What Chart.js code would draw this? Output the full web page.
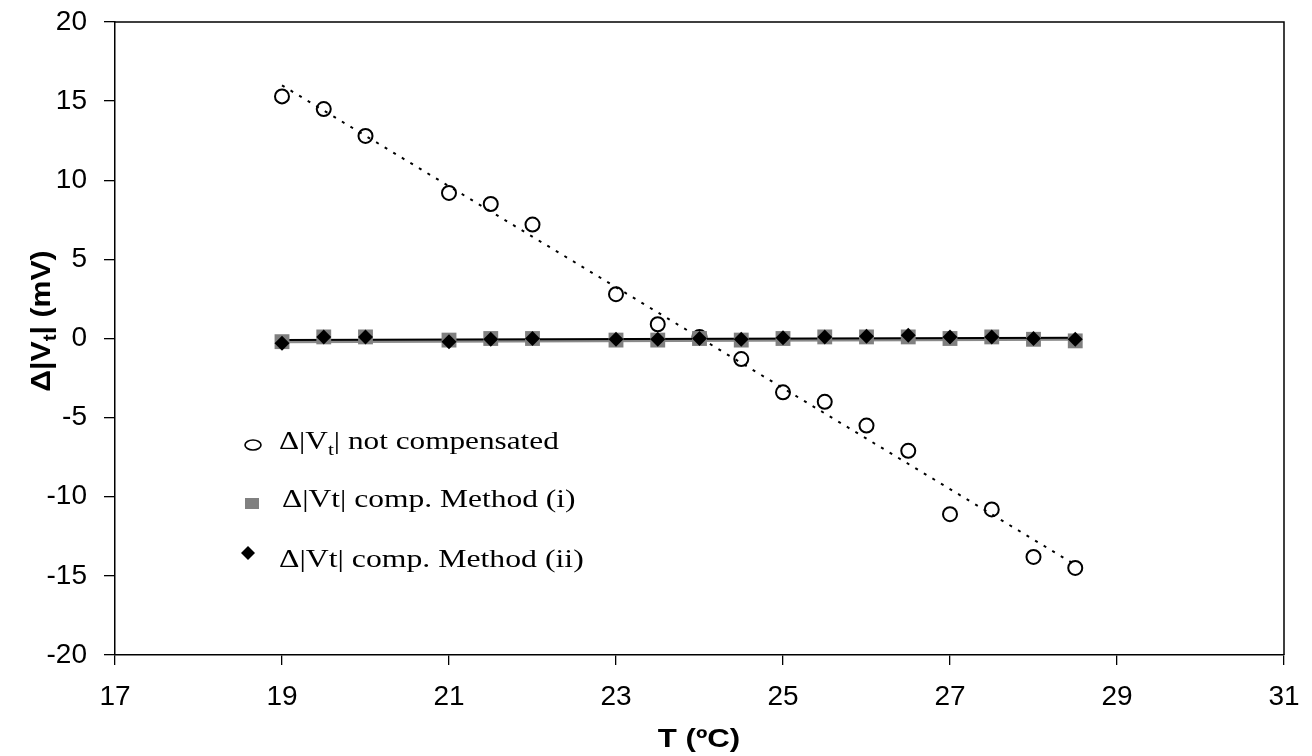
<!DOCTYPE html>
<html>
<head>
<meta charset="utf-8">
<script src="https://cdn.jsdelivr.net/npm/chart.js@4.4.0/dist/chart.umd.min.js"></script>
<style>
  html, body { margin: 0; padding: 0; background: #fff; }
  #wrap { width: 1312px; height: 756px; position: relative; }
</style>
</head>
<body>
<div id="wrap"><canvas id="myChart" width="1312" height="756"></canvas></div>
<script>
// temperatures (ºC)
const temps = [19, 19.5, 20, 21, 21.5, 22, 23, 23.5, 24, 24.5, 25, 25.5, 26, 26.5, 27, 27.5, 28, 28.5];
// Δ|Vt| not compensated (mV)
const notComp = [15.3, 14.5, 12.8, 9.2, 8.5, 7.2, 2.8, 0.9, 0.1, -1.3, -3.4, -4.0, -5.5, -7.1, -11.1, -10.8, -13.8, -14.5];
// Δ|Vt| comp. Method (i)
const methodI = [-0.2, 0.1, 0.1, -0.1, 0.0, 0.0, -0.1, -0.1, 0.0, -0.1, 0.0, 0.1, 0.1, 0.1, 0.0, 0.1, -0.05, -0.15];
// Δ|Vt| comp. Method (ii)
const methodII = [-0.3, 0.1, 0.1, -0.2, -0.05, 0.0, -0.05, -0.05, 0.0, -0.05, 0.05, 0.1, 0.15, 0.2, 0.1, 0.1, 0.0, -0.05];

// trend lines (end points)
const trendNC = [[19, 16.0], [28.5, -14.3]];
const trendI = [[19, -0.2], [28.5, -0.05]];
const trendII = [[19, -0.1], [28.5, 0.05]];

const xTicks = [17, 19, 21, 23, 25, 27, 29, 31];
const yTicks = [-20, -15, -10, -5, 0, 5, 10, 15, 20];

const pts = (xs, ys) => xs.map((x, i) => ({ x: x, y: ys[i] }));
const line = (arr) => arr.map(p => ({ x: p[0], y: p[1] }));

// text with a subscript part, drawn on the canvas
const drawRich = (ctx, parts, x, y, size, family, weight, sx) => {
    let w = 0;
    ctx.save();
    ctx.translate(x, y);
    ctx.scale(sx, 1);
    ctx.textBaseline = 'alphabetic';
    ctx.textAlign = 'left';
    parts.forEach(p => {
        const fs = p.sub ? size * 0.68 : size;
        ctx.font = weight + ' ' + fs + 'px ' + family;
        ctx.fillText(p.t, w, p.sub ? size * 0.22 : 0);
        w += ctx.measureText(p.t).width;
    });
    ctx.restore();
    return w * sx;
};
const richWidth = (ctx, parts, size, family, weight, sx) => {
    let w = 0;
    parts.forEach(p => {
        const fs = p.sub ? size * 0.68 : size;
        ctx.font = weight + ' ' + fs + 'px ' + family;
        w += ctx.measureText(p.t).width;
    });
    return w * sx;
};

const extras = {
    id: 'extras',
    afterDraw(chart) {
        const ctx = chart.ctx;
        const a = chart.chartArea;
        ctx.save();
        // frame top and right
        ctx.strokeStyle = '#000';
        ctx.lineWidth = 1.5;
        ctx.beginPath();
        ctx.moveTo(a.left, a.top);
        ctx.lineTo(a.right, a.top);
        ctx.lineTo(a.right, a.bottom);
        ctx.stroke();

        ctx.fillStyle = '#000';
        const sans = '"Liberation Sans", Arial, sans-serif';
        const serif = '"Liberation Serif", "Times New Roman", serif';

        // x title
        const xt = [{ t: 'T (ºC)' }];
        const xw = richWidth(ctx, xt, 26, sans, 'bold', 1.2);
        drawRich(ctx, xt, 699 - xw / 2, 747, 26, sans, 'bold', 1.2);

        // y title, rotated
        const yt = [{ t: 'Δ|V' }, { t: 't', sub: true }, { t: '| (mV)' }];
        const yw = richWidth(ctx, yt, 27, sans, 'bold', 1.12);
        ctx.save();
        ctx.translate(50, 321);
        ctx.rotate(-Math.PI / 2);
        drawRich(ctx, yt, -yw / 2, 0, 27, sans, 'bold', 1.12);
        ctx.restore();

        // legend
        ctx.lineWidth = 1.6;
        ctx.strokeStyle = '#000';
        ctx.beginPath();
        ctx.ellipse(253, 445, 8, 5, 0, 0, Math.PI * 2);
        ctx.stroke();
        drawRich(ctx, [{ t: 'Δ|V' }, { t: 't', sub: true }, { t: '| not compensated' }], 279, 449, 25, serif, 'normal', 1.25);

        ctx.fillStyle = '#808080';
        ctx.fillRect(245, 498, 14, 11);
        ctx.fillStyle = '#000';
        drawRich(ctx, [{ t: 'Δ|Vt| comp. Method (i)' }], 282, 507, 25, serif, 'normal', 1.26);

        ctx.beginPath();
        ctx.moveTo(248, 546);
        ctx.lineTo(255, 553);
        ctx.lineTo(248, 560);
        ctx.lineTo(241, 553);
        ctx.closePath();
        ctx.fill();
        drawRich(ctx, [{ t: 'Δ|Vt| comp. Method (ii)' }], 279, 567, 25, serif, 'normal', 1.27);
        ctx.restore();
    }
};

const ctx = document.getElementById('myChart');
new Chart(ctx, {
    type: 'scatter',
    data: {
        datasets: [
            {
                label: 'Δ|Vt| not compensated',
                data: pts(temps, notComp),
                pointStyle: 'circle',
                pointRadius: 7,
                pointBorderWidth: 2,
                pointBorderColor: '#000',
                pointBackgroundColor: 'rgba(0,0,0,0)',
                showLine: false,
                order: 6,
            },
            {
                label: 'trend nc',
                data: line(trendNC),
                showLine: true,
                borderColor: '#000',
                borderWidth: 2,
                borderDash: [3, 7],
                pointRadius: 0,
                order: 5,
            },
            {
                label: 'trend i',
                data: line(trendI),
                showLine: true,
                borderColor: '#8a8a8a',
                borderWidth: 3,
                pointRadius: 0,
                order: 4,
            },
            {
                label: 'trend ii',
                data: line(trendII),
                showLine: true,
                borderColor: '#000',
                borderWidth: 2,
                pointRadius: 0,
                order: 3,
            },
            {
                label: 'Δ|Vt| comp. Method (i)',
                data: pts(temps, methodI),
                pointStyle: 'rect',
                pointRadius: 10.5,
                pointBorderWidth: 0,
                pointBackgroundColor: '#808080',
                pointBorderColor: '#808080',
                order: 2,
            },
            {
                label: 'Δ|Vt| comp. Method (ii)',
                data: pts(temps, methodII),
                pointStyle: 'rectRot',
                pointRadius: 7.5,
                pointBorderWidth: 0,
                pointBackgroundColor: '#000',
                pointBorderColor: '#000',
                order: 1,
            },
        ],
    },
    options: {
        responsive: false,
        animation: false,
        layout: { padding: { left: 0, right: 28, top: 22, bottom: 0 } },
        plugins: {
            legend: { display: false },
            tooltip: { enabled: false },
        },
        scales: {
            x: {
                type: 'linear',
                min: 17,
                max: 31,
                afterFit: (s) => { s.height = 101; s.paddingLeft = 0; s.paddingRight = 0; },
                afterBuildTicks: (s) => { s.ticks = xTicks.map(v => ({ value: v })); },
                grid: { drawOnChartArea: false, drawTicks: true, tickLength: 10, color: '#000', lineWidth: 1.3 },
                border: { color: '#000', width: 1.5 },
                ticks: {
                    color: '#000',
                    padding: 15,
                    maxRotation: 0,
                    font: { family: '"Liberation Sans", Arial, sans-serif', size: 28 },
                },
            },
            y: {
                min: -20,
                max: 20,
                afterFit: (s) => { s.width = 115; s.paddingTop = 0; s.paddingBottom = 0; },
                afterBuildTicks: (s) => { s.ticks = yTicks.map(v => ({ value: v })); },
                grid: { drawOnChartArea: false, drawTicks: true, tickLength: 11, color: '#000', lineWidth: 1.3 },
                border: { color: '#000', width: 1.5 },
                ticks: {
                    color: '#000',
                    padding: 17,
                    font: { family: '"Liberation Sans", Arial, sans-serif', size: 28 },
                },
            },
        },
    },
    plugins: [extras],
});
</script>
</body>
</html>
